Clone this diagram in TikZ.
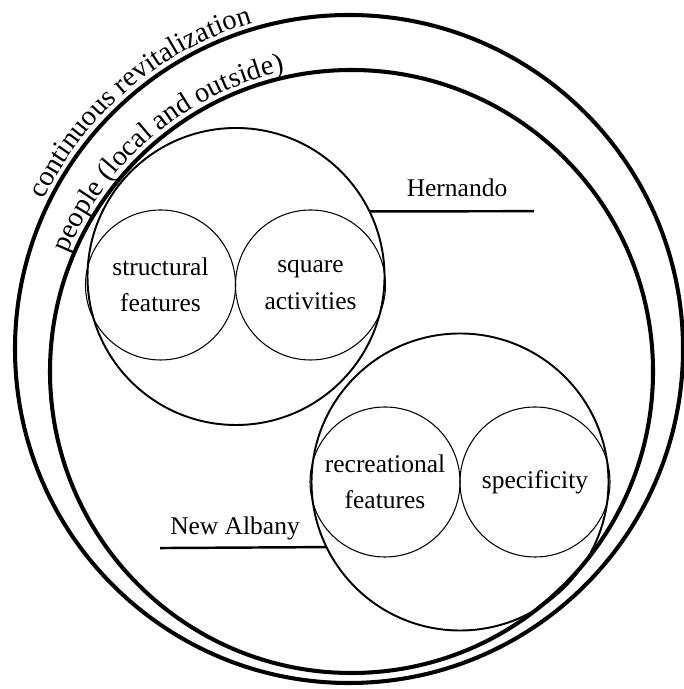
\documentclass[tikz,border=0pt]{standalone}
\usepackage{fontspec}
\setmainfont{Liberation Serif}
\usetikzlibrary{positioning,decorations.text}

\newcommand{\diagfont}{\fontsize{14.5}{20.5}\selectfont}
\newcommand{\ringfont}{\fontsize{16.2}{19}\selectfont}

\begin{document}
\begin{tikzpicture}[ring/.style={circle, draw, line width=2.3pt, inner sep=0pt, outer sep=0pt},
    group/.style={circle, draw, line width=1.1pt, minimum size=5.94cm, inner sep=0pt, outer sep=0pt},
    facet/.style={circle, draw, line width=0.6pt, minimum size=3cm, inner sep=0pt, outer sep=0pt, align=center, font=\diagfont},
    tag/.style={inner sep=0pt, font=\diagfont},
    lead/.style={line width=1.4pt}]
	\useasboundingbox (0,0) rectangle (13.66,13.78);
	% outer rings
	\node[ring, minimum size=13.36cm] (revit) at (6.98,6.80) {};
	\node[ring, minimum size=12.06cm] (people) at (7.03,6.35) {};
	\path[decorate, decoration={text along path, text={|\ringfont|continuous revitalization}}]
		([shift={(154:6.80)}]revit.center) arc[start angle=154, end angle=70, radius=6.80];
	\path[decorate, decoration={text along path, text={|\ringfont|people (local and outside)}}]
		([shift={(157.5:6.15)}]people.center) arc[start angle=157.5, end angle=70, radius=6.15];
	% Hernando
	\node[group] (hern) at (4.72,8.25) {};
	\node[facet] (struct) at (3.21,8.08) {structural\\features};
	\node[facet, right=0cm of struct] (square) {square\\activities};
	\coordinate (hernEnd) at (10.68,9.556);
	\draw[lead] (hern.26) -- (hernEnd);
	\node[tag] (hernLbl) at (9.14,10.02) {Hernando};
	% New Albany
	\node[group] (nalb) at (9.20,4.14) {};
	\node[facet] (recr) at (7.70,4.14) {recreational\\features};
	\node[facet, right=0cm of recr] (spec) {specificity};
	\coordinate (nalbEnd) at (3.20,2.819);
	\draw[lead] (nalb.206.5) -- (nalbEnd);
	\node[tag] (nalbLbl) at (4.70,3.21) {New Albany};
\end{tikzpicture}
\end{document}
